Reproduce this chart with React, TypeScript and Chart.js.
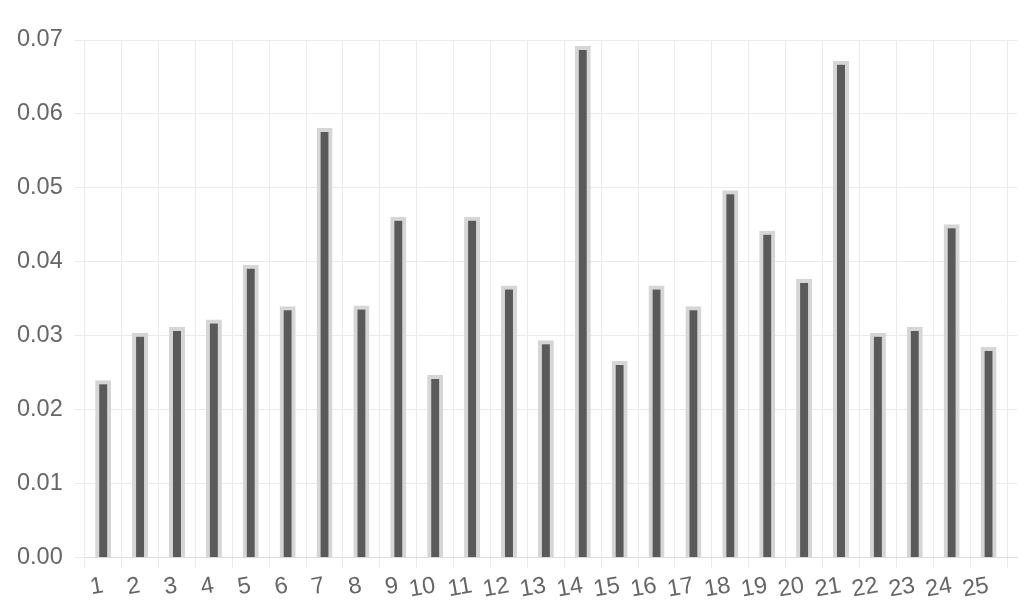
import { useEffect, useRef } from "react";
import * as React from "react";
import { Chart, registerables } from "chart.js";

Chart.register(...registerables);

const categories = [
  "1", "2", "3", "4", "5", "6", "7", "8", "9", "10", "11", "12", "13",
  "14", "15", "16", "17", "18", "19", "20", "21", "22", "23", "24", "25",
];

const values = [
  0.024, 0.0304, 0.0312, 0.0322, 0.0396, 0.0340, 0.0581, 0.0341, 0.0461,
  0.0247, 0.0461, 0.0368, 0.0294, 0.0692, 0.0266, 0.0368, 0.0340, 0.0497,
  0.0442, 0.0377, 0.0672, 0.0304, 0.0312, 0.0451, 0.0285,
];

const yMin = 0;
const yMax = 0.07;
const yStep = 0.01;

const gridColor = "#ebebeb";

// the category axis stops short of the plot's right edge, grid lines do not
const trimX = {
  id: "trimX",
  afterLayout(chart: any) {
    const x = chart.scales.x;
    x._endPixel -= 10;
    x._length = x._endPixel - x._startPixel;
  },
};

const App: React.FC = () => {
  const chartRef = useRef<HTMLCanvasElement>(null);

  useEffect(() => {
    document.body.style.margin = "0";
    if (!chartRef.current) return;
    Chart.defaults.font.family = "'Liberation Sans', Arial, sans-serif";
    Chart.defaults.font.size = 23.5;
    Chart.defaults.color = "#666";

    const chart = new Chart(chartRef.current, {
      type: "bar",
      data: {
        labels: categories,
        datasets: [
          {
            data: values,
            backgroundColor: "#5a5a5a",
            borderColor: "#d6d6d6",
            borderWidth: 4,
            barPercentage: 0.434,
            categoryPercentage: 1,
          },
        ],
      },
      options: {
        animation: false,
        responsive: true,
        maintainAspectRatio: false,
        layout: { padding: { left: 5, top: 40, right: 7, bottom: 0 } },
        plugins: {
          legend: { display: false },
          tooltip: { enabled: false },
        },
        scales: {
          x: {
            grid: {
              color: (ctx: any) => (ctx.index >= categories.length ? "rgba(0,0,0,0)" : gridColor),
              tickLength: 10,
              lineWidth: 1,
            },
            border: { color: "#dddddd" },
            ticks: {
              autoSkip: false,
              minRotation: 10,
              maxRotation: 10,
              padding: 4,
            },
          },
          y: {
            min: yMin,
            max: yMax,
            grid: { color: gridColor, tickLength: 10, lineWidth: 1 },
            border: { color: gridColor },
            ticks: {
              stepSize: yStep,
              padding: 12,
              callback: (v: any) => Number(v).toFixed(2),
            },
          },
        },
      },
      plugins: [trimX],
    });

    return () => {
      chart.destroy();
    };
  }, []);

  return (
    <div style={{ position: "fixed", left: 0, top: 0, width: 1024, height: 608 }}>
      <canvas ref={chartRef}></canvas>
    </div>
  );
};

export default App;
